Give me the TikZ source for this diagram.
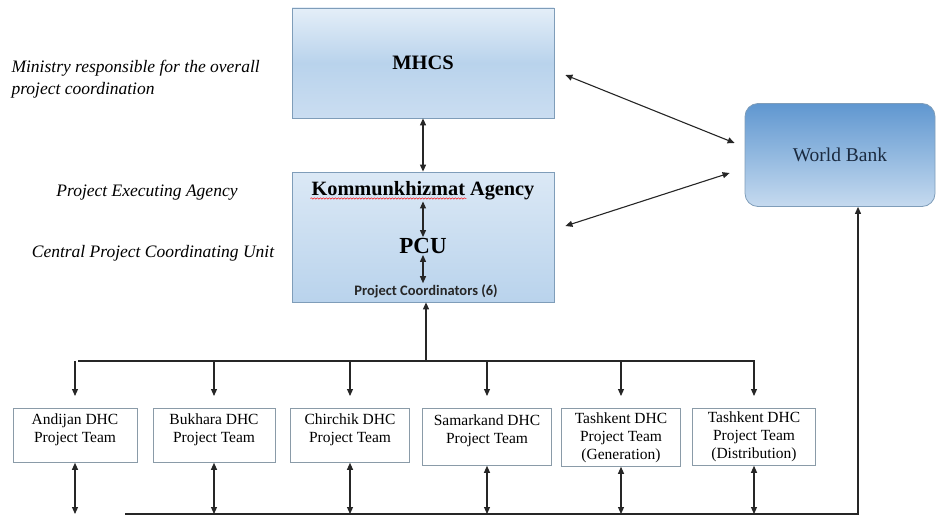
\documentclass[tikz,border=0pt]{standalone}
\usepackage{fontspec}
\setmainfont{Liberation Serif}
\newfontfamily\calib{Carlito}
\usetikzlibrary{arrows.meta, decorations.pathmorphing, positioning, calc}

\definecolor{boxline}{HTML}{7F9DB9}
\definecolor{teamline}{HTML}{8A9BA8}
\definecolor{wire}{HTML}{262626}
\definecolor{paletop}{HTML}{E4EEF8}
\definecolor{palemid}{HTML}{B9D3EC}
\definecolor{palebot}{HTML}{CADDF1}
\definecolor{banktop}{HTML}{5F97D0}
\definecolor{bankbot}{HTML}{C6DAEF}
\definecolor{banktext}{HTML}{1A2A40}

\tikzset{
  arr/.style={-{Triangle[width=6pt,length=7pt]}, wire, line width=1.1pt},
  dbl/.style={{Triangle[width=6pt,length=7pt]}-{Triangle[width=6pt,length=7pt]}, wire, line width=1.1pt},
  ministry/.style={draw=boxline, line width=0.8pt, top color=paletop, bottom color=palebot,
    middle color=palemid, minimum width=262pt, minimum height=110pt},
  agency/.style={draw=boxline, line width=0.8pt, top color=paletop!80!palemid, bottom color=palemid,
    minimum width=262pt, minimum height=130pt},
  bank/.style={draw=boxline, line width=0.8pt, rounded corners=13pt, top color=banktop,
    bottom color=bankbot, minimum width=190pt, minimum height=103pt},
  team/.style={draw=teamline, line width=0.8pt, fill=white, align=center, inner xsep=2pt,
    font=\fontsize{15.5}{18}\selectfont},
  note/.style={font=\fontsize{17.5}{22}\selectfont\itshape, align=left}
}

\begin{document}
\begin{tikzpicture}[x=1pt, y=-1pt]
  \useasboundingbox (0,0) rectangle (936,516);

  % top level boxes
  \node[ministry] (mhcs) at (423,63) {};
  \node[font=\fontsize{20.5}{22}\selectfont\bfseries] (mhcstxt) at (mhcs.center) {MHCS};
  \node[agency] (ag) at (423,237) {};
  \node[font=\fontsize{20.3}{22}\selectfont\bfseries, inner sep=1pt] (kom) at (423,191) {Kommunkhizmat Agency};
  \node[font=\fontsize{23}{25}\selectfont\bfseries, inner sep=1pt] (pcu) at (423,246) {PCU};
  \node[font=\fontsize{14.5}{15}\selectfont\calib\bfseries, text=black!85, inner sep=1pt] (pc) at (426,291) {Project Coordinators (6)};
  \node[bank] (wb) at (840,155) {};
  \node[font=\fontsize{19.5}{21}\selectfont, text=banktext] (wbtxt) at (wb.center) {World Bank};

  % spell-check mark
  \draw[red, line width=0.5pt, decorate, decoration={snake, amplitude=0.7pt, segment length=3pt}]
    ([xshift=0pt,yshift=3pt]kom.south west) -- ++(156,0);

  % left notes
  \node[note, anchor=west] (n1) at (8,79) {Ministry responsible for the overall\\project coordination};
  \node[note] (n2) at (147,193) {Project Executing Agency};
  \node[note] (n3) at (153,253) {Central Project Coordinating Unit};

  % vertical links in the middle
  \draw[dbl] (mhcs.south) -- (ag.north);
  \draw[dbl] (kom.south) -- (pcu.north);
  \draw[dbl] (pcu.south) -- (pcu.south |- pc.north);

  % links to the World Bank
  \coordinate (m1) at ([shift={(11,12)}]mhcs.east);
  \coordinate (w1) at ([shift={(-10,-12)}]wb.west);
  \coordinate (a1) at ([shift={(11,-11)}]ag.east);
  \coordinate (w2) at ([shift={(-15,18)}]wb.west);
  \draw[dbl] (m1) -- (w1);
  \draw[dbl] (a1) -- (w2);

  % project teams
  \foreach \nm/\x/\w/\h/\txt in {
      an/75/124/54/{Andijan DHC\\Project Team\\[-4pt]\mbox{}},
      bu/214/122/54/{Bukhara DHC\\Project Team\\[-4pt]\mbox{}},
      ch/350/119/54/{Chirchik DHC\\Project Team\\[-4pt]\mbox{}},
      sa/487/129/57/{Samarkand DHC\\Project Team\\[-2pt]\mbox{}},
      tg/621/119/58/{Tashkent DHC\\Project Team\\(Generation)},
      td/754/123/57/{Tashkent DHC\\Project Team\\(Distribution)}}{
    \node[team, anchor=north, minimum width=\w pt, minimum height=\h pt] (\nm) at (\x,408) {\txt};
  }

  % upper bus
  \coordinate (busl) at (78,361);
  \coordinate (busr) at (755,361);
  \coordinate (busm) at (426,361);
  \draw[wire, line width=1.1pt] (busl) -- (busr);
  \draw[arr] (busm) -- (busm |- ag.south);
  \foreach \nm in {an,bu,ch,sa,tg,td}
    \draw[arr, shorten >=12pt] (busl -| \nm.north) -- (\nm.north);

  % lower bus to the World Bank
  \coordinate (lowl) at (125,514);
  \coordinate (lowr) at (858,514);
  \draw[arr] (lowl) -- (lowr) -- (lowr |- wb.south);
  \foreach \nm in {an,bu,ch,sa,tg,td}
    \draw[dbl] (\nm.south) -- (\nm.south |- lowl);
\end{tikzpicture}
\end{document}
